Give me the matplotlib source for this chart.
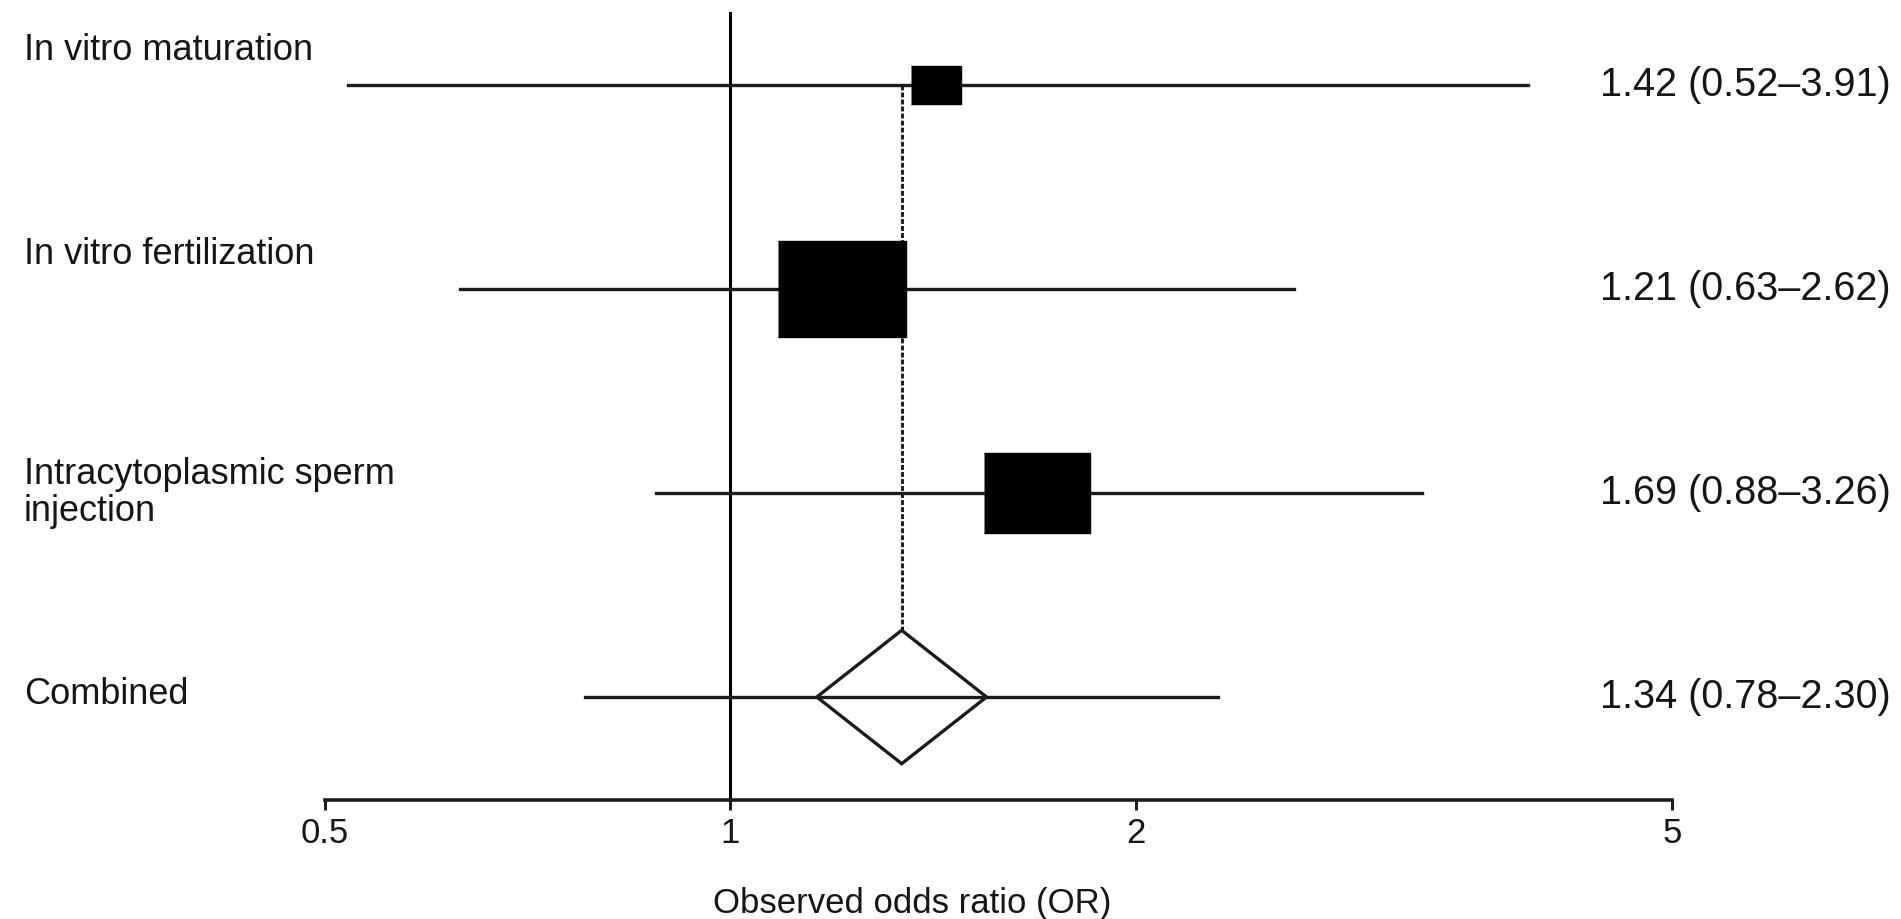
"""
Forest plot: odds ratio by assisted reproduction technique, with the pooled estimate.
"""
import matplotlib.pyplot as plt
import matplotlib.transforms as mtransforms
import numpy as np
from matplotlib.patches import Polygon

plt.rcParams["font.family"] = ["Liberation Sans", "DejaVu Sans"]

# data
studies = ["In vitro maturation", "In vitro fertilization",
           "Intracytoplasmic sperm\ninjection"]
odds_ratio = [1.42, 1.21, 1.69]
ci_low = [0.52, 0.63, 0.88]
ci_high = [3.91, 2.62, 3.26]

combined_label = "Combined"
combined_or = 1.34
combined_low = 0.78
combined_high = 2.30

x_ticks = [0.5, 1, 2, 5]
x_title = "Observed odds ratio (OR)"

# layout
box_sizes = [36, 92, 77]           # marker width in points (study weight)
label_offsets = [0.17, 0.17, 0.0]  # study label height above its row
box_shape = [(-4, -3), (4, -3), (4, 3), (-4, 3)]
TXT = "#161616"
LINE = "#1c1c1c"


def draw_forest():
    fig = plt.figure(figsize=(19.01, 9.19), dpi=100)
    ax = fig.add_axes([325 / 1901, 119 / 919, 1347 / 1901, 788 / 919])
    ax.set_xscale("log")
    ax.set_xlim(0.5, 5)
    ax.set_ylim(0.495, 4.358)

    rows = [4, 3, 2]
    comb_row = 1

    # reference line at OR = 1
    ax.axvline(1, color="black", lw=2.2, zorder=1)

    # dotted line at the pooled estimate
    diamond_h = 0.327
    ax.plot([combined_or, combined_or], [rows[0], comb_row + diamond_h],
            color="#222222", lw=2.2, ls=(0, (1.6, 0.7)), zorder=1)

    for y, est, lo, hi, size in zip(rows, odds_ratio, ci_low, ci_high, box_sizes):
        ax.plot([lo, hi], [y, y], color=LINE, lw=2.4, zorder=2)
        ax.plot([est], [y], marker=box_shape, markersize=size, color="black",
                ls="none", zorder=3)

    # pooled estimate: interval line and diamond
    ax.plot([combined_low, combined_high], [comb_row, comb_row],
            color=LINE, lw=2.4, zorder=3)
    half_w = 10 ** 0.063
    diamond = Polygon([(combined_or / half_w, comb_row),
                       (combined_or, comb_row + diamond_h),
                       (combined_or * half_w, comb_row),
                       (combined_or, comb_row - diamond_h)],
                      closed=True, facecolor="none", edgecolor=LINE,
                      lw=2.4, zorder=2)
    ax.add_patch(diamond)

    # axis styling
    for side in ["top", "right", "left"]:
        ax.spines[side].set_visible(False)
    ax.spines["bottom"].set_linewidth(2.6)
    ax.spines["bottom"].set_color(LINE)
    ax.set_yticks([])
    ax.set_xticks(x_ticks)
    ax.set_xticklabels([f"{t:g}" for t in x_ticks])
    ax.xaxis.set_minor_locator(plt.NullLocator())
    ax.tick_params(axis="x", direction="out", length=7, width=2.2,
                   labelsize=25, pad=5, labelcolor=TXT, color=LINE)

    fig.text(912 / 1901, 1 - 903 / 919, x_title, ha="center", va="center",
             fontsize=25, color=TXT)

    # row labels on the left, estimates on the right
    left = mtransforms.blended_transform_factory(fig.transFigure, ax.transData)
    for y, name, off in zip(rows, studies, label_offsets):
        ax.text(0.0126, y + off, name, transform=left, ha="left", va="center",
                fontsize=26, color=TXT, linespacing=1.05)
    ax.text(0.0126, comb_row + 0.01, combined_label, transform=left,
            ha="left", va="center", fontsize=26, color=TXT)

    for y, est, lo, hi in zip(rows, odds_ratio, ci_low, ci_high):
        ax.text(0.9947, y, f"{est:.2f} ({lo:.2f}\u2013{hi:.2f})", transform=left,
                ha="right", va="center", fontsize=28.5, color=TXT)
    ax.text(0.9947, comb_row,
            f"{combined_or:.2f} ({combined_low:.2f}\u2013{combined_high:.2f})",
            transform=left, ha="right", va="center", fontsize=28.5, color=TXT)

    fig.savefig("out.png", dpi=100)
    plt.close(fig)


if __name__ == "__main__":
    draw_forest()
